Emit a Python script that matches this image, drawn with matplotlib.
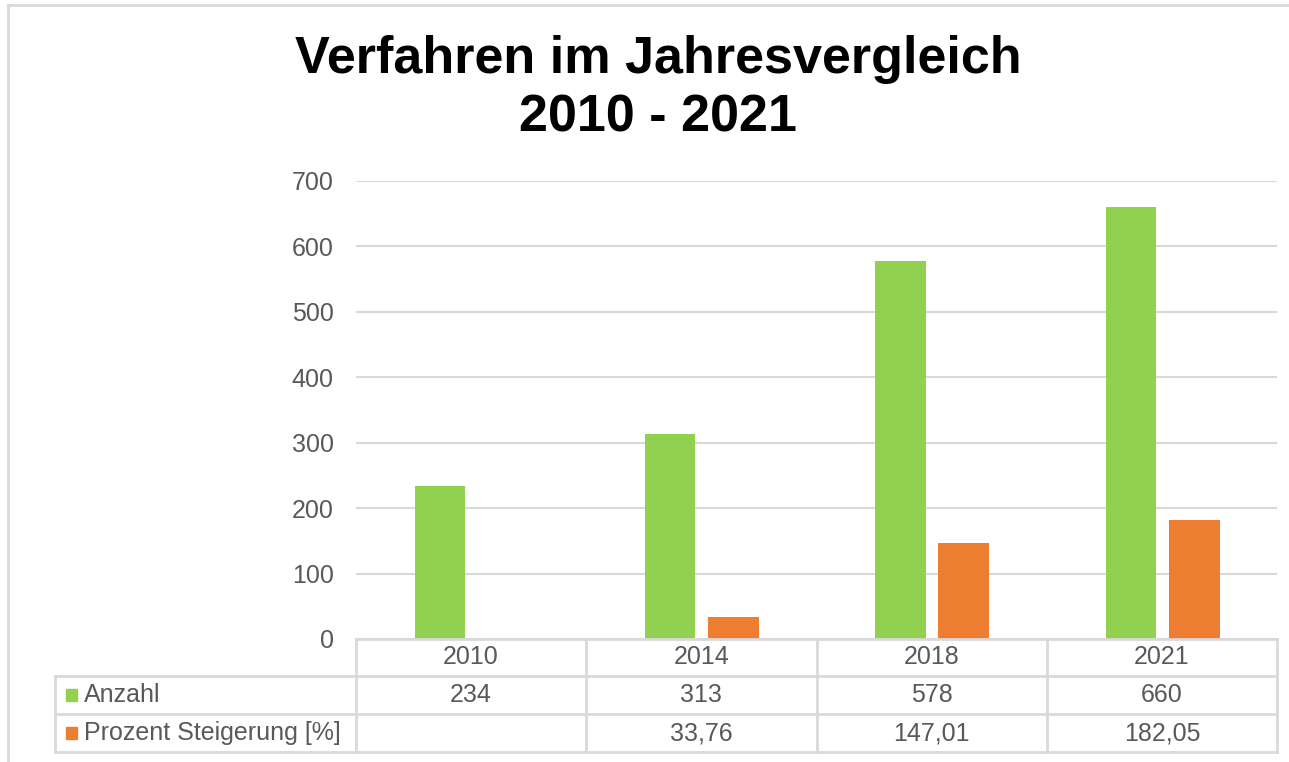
import matplotlib.pyplot as plt
import numpy as np

plt.rcParams['font.family'] = ['Liberation Sans', 'DejaVu Sans']

years = ["2010", "2014", "2018", "2021"]
anzahl = [234, 313, 578, 660]
steigerung = [None, 33.76, 147.01, 182.05]
series_names = ["Anzahl", "Prozent Steigerung [%]"]

green = "#92D050"
orange = "#ED7D31"
gray_text = "#595959"
line_gray = "#D9D9D9"

W, H = 1289, 762
fig = plt.figure(figsize=(W / 100, H / 100), dpi=100)

# plot area in pixels
left, right, top, bottom = 356, 1277, 181, 639
ax = fig.add_axes([left / W, 1 - bottom / H, (right - left) / W, (bottom - top) / H])

x = np.arange(len(years))
pct = [0 if v is None else v for v in steigerung]
ax.bar(x - 0.135, anzahl, width=0.218, color=green, zorder=3)
ax.bar(x + 0.14, pct, width=0.222, color=orange, zorder=3)

ax.set_xlim(-0.5, len(years) - 0.5)
ax.set_ylim(0, 700)
ax.set_yticks(range(0, 701, 100))
ax.yaxis.grid(True, color=line_gray, linewidth=1.5, zorder=0)
ax.set_xticks([])
for s in ax.spines.values():
    s.set_visible(False)
ax.tick_params(axis='y', length=0, pad=16, labelsize=18, labelcolor=gray_text)

# overlay in pixel coordinates for table and frame
ov = fig.add_axes([0, 0, 1, 1])
ov.set_xlim(0, W)
ov.set_ylim(H, 0)
ov.axis('off')

# outer frame
ov.plot([8, 8], [5, H], color=line_gray, lw=2)
ov.plot([8, W], [5, 5], color=line_gray, lw=2)

# title
ov.text(658, 59, "Verfahren im Jahresvergleich", ha='center', va='center',
        fontsize=37.5, fontweight='bold', color='black')
ov.text(658, 118, "2010 - 2021", ha='center', va='center',
        fontsize=37.5, fontweight='bold', color='black')

# data table
col_w = (right - left) / len(years)
rows_y = [639, 676, 714, 752]
lab_left = 55
tl = dict(color=line_gray, lw=2)
ov.plot([left, right], [rows_y[0], rows_y[0]], **tl)
for yy in rows_y[1:]:
    ov.plot([lab_left, right], [yy, yy], **tl)
ov.plot([lab_left, lab_left], [rows_y[1], rows_y[3]], **tl)
for i in range(len(years) + 1):
    xx = left + i * col_w
    ov.plot([xx, xx], [rows_y[0], rows_y[3]], **tl)

fs = 18
for i, yr in enumerate(years):
    cx = left + (i + 0.5) * col_w
    ov.text(cx, (rows_y[0] + rows_y[1]) / 2, yr, ha='center', va='center',
            fontsize=fs, color=gray_text)
    ov.text(cx, (rows_y[1] + rows_y[2]) / 2, str(anzahl[i]), ha='center',
            va='center', fontsize=fs, color=gray_text)
    if steigerung[i] is not None:
        ov.text(cx, (rows_y[2] + rows_y[3]) / 2,
                f"{steigerung[i]:.2f}".replace('.', ','), ha='center',
                va='center', fontsize=fs, color=gray_text)

for j, (name, col) in enumerate(zip(series_names, [green, orange])):
    cy = (rows_y[j + 1] + rows_y[j + 2]) / 2
    ov.add_patch(plt.Rectangle((66, cy - 6), 11, 12, color=col))
    ov.text(84, cy, name, ha='left', va='center', fontsize=fs, color=gray_text)

fig.savefig("out.png", dpi=100)
